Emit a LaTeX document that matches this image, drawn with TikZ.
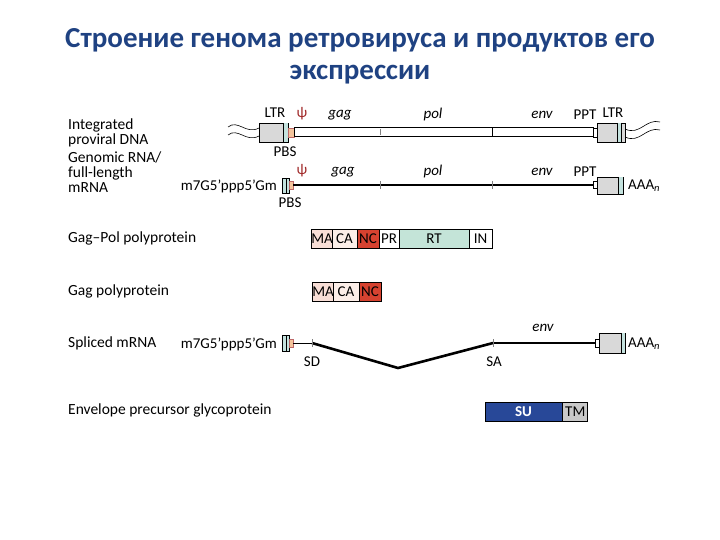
\documentclass[tikz,border=0pt]{standalone}
\usepackage{fontspec}
\setmainfont{Carlito}
\usetikzlibrary{positioning}
\definecolor{titleblue}{RGB}{31,66,130}
\definecolor{ltrgrey}{RGB}{217,217,217}
\definecolor{ltrteal}{RGB}{196,226,222}
\definecolor{pbs}{RGB}{244,196,156}
\definecolor{psi}{RGB}{160,40,40}
\definecolor{ma}{RGB}{248,222,214}
\definecolor{ca}{RGB}{252,238,232}
\definecolor{nc}{RGB}{214,66,48}
\definecolor{rt}{RGB}{196,228,216}
\definecolor{su}{RGB}{40,72,152}
\definecolor{tm}{RGB}{200,200,200}

\begin{document}
\begin{tikzpicture}[
  x=1pt, y=-1pt,
  every node/.style={font=\fontsize{15.5}{15}\selectfont},
  title/.style={font=\fontsize{29}{33}\selectfont\bfseries, text=titleblue},
  rowlab/.style={anchor=west, align=left, inner sep=0pt},
  gene/.style={font=\fontsize{15}{15}\selectfont\itshape},
  tag/.style={font=\fontsize{15}{15}\selectfont, inner sep=0pt},
  dom/.style={draw, inner sep=0pt, minimum height=19pt, line width=0.8pt,
              font=\fontsize{15}{15}\selectfont},
  ltr/.style={draw, fill=ltrgrey, line width=0.8pt},
  pbsbox/.style={draw=psi!70, fill=pbs, line width=0.6pt},
  tick/.style={line width=0.8pt}
]
\useasboundingbox (0,0) rectangle (720,540);

% title
\node[title] (title1) at (360,40) {Строение генома ретровируса и продуктов его};
\node[title] (title2) at (360,75) {экспрессии};

% row labels
\node[rowlab] (lDNA) at (68,132.5) {Integrated\\proviral DNA};
\node[rowlab] (lRNA) at (68,172) {Genomic RNA/\\full-length\\mRNA};
\node[rowlab] (lGP)  at (68,238) {Gag--Pol polyprotein};
\node[rowlab] (lGag) at (68,291) {Gag polyprotein};
\node[rowlab] (lSpl) at (68,343) {Spliced mRNA};
\node[rowlab] (lEnv) at (68,410) {Envelope precursor glycoprotein};

% integrated proviral DNA
\draw[line width=0.6pt] (228,127) .. controls (238,119) and (246,135) .. (259,128);
\draw[line width=0.6pt] (228,135) .. controls (238,127) and (246,143) .. (259,136);
\draw[line width=0.6pt] (625,129) .. controls (640,136) and (646,118) .. (660,122);
\draw[line width=0.6pt] (625,137) .. controls (640,144) and (646,126) .. (660,130);
\draw[ltr] (259,123) rectangle (288,142);
\fill[ltrteal] (283,123.4) rectangle (287.6,141.6);
\draw[line width=0.6pt] (283,123) -- (283,142);
\draw[pbsbox] (288,128) rectangle (294,137);
\draw[line width=1pt, fill=white] (294,127.5) rectangle (593,137);
\draw[gray, line width=0.8pt] (380,129) -- (380,135.5);
\draw[tick] (492,127.5) -- (492,137);
\draw[line width=0.8pt, fill=white] (593,128) rectangle (597,137);
\draw[ltr] (597,123) rectangle (625,142);
\fill[ltrteal] (617.4,123.4) rectangle (621,141.6);
\draw[line width=0.6pt] (617,123) -- (617,142) (621,123) -- (621,142);

\node[tag] (ltrL) at (275,113) {LTR};
\node[tag, text=psi] (psiA) at (302,114) {ψ};
\node[gene] (gagA) at (340,115) {gag};
\node[gene] (polA) at (433,115) {pol};
\node[gene] (envA) at (542,115) {env};
\node[tag] (pptA) at (585,115) {PPT};
\node[tag] (ltrR) at (613,113) {LTR};
\node[tag] (pbsA) at (285,152) {PBS};

% genomic RNA
\draw[ltr, fill=ltrteal] (282,178) rectangle (289,193);
\draw[line width=0.6pt] (286,178) -- (286,193);
\draw[pbsbox] (289,181) rectangle (293,189);
\draw[line width=2.6pt] (293,185) -- (593,185);
\draw[gray, line width=0.8pt] (380,181) -- (380,189);
\draw[gray, line width=0.8pt] (492,181) -- (492,189);
\draw[line width=0.8pt, fill=white] (593,181) rectangle (597,188);
\draw[ltr] (597,177) rectangle (623,194);
\fill[ltrteal] (618.4,177.4) rectangle (622.6,193.6);
\draw[line width=0.6pt] (618,177) -- (618,194);

\node[tag, anchor=east] (capA) at (277,186) {m7G5’ppp5’Gm};
\node[tag, text=psi] (psiB) at (302,171) {ψ};
\node[gene] (gagB) at (343,172) {gag};
\node[gene] (polB) at (433,172) {pol};
\node[gene] (envB) at (542,172) {env};
\node[tag] (pptB) at (585,172) {PPT};
\node[tag] (pbsB) at (290,203) {PBS};
\node[tag, anchor=west] (polyA) at (628,186) {AAA\textsubscript{\itshape n}};

% Gag-Pol polyprotein
\foreach \n/\a/\b/\c in {MA/312/332/ma, CA/332/357/ca, NC/357/379/nc,
                         PR/379/399/white, RT/399/469/rt, IN/469/492/white}
  \node[dom, fill=\c, minimum width={(\b-\a)*1pt}] (gp\n) at ({(\a+\b)/2},238.5) {\n};

% Gag polyprotein
\foreach \n/\a/\b/\c in {MA/313/333/ma, CA/333/359/ca, NC/359/381/nc}
  \node[dom, fill=\c, minimum width={(\b-\a)*1pt}] (g\n) at ({(\a+\b)/2},292) {\n};

% spliced mRNA
\coordinate (sd) at (312,343);
\coordinate (dip) at (398,368);
\coordinate (sa) at (493,343);
\draw[ltr, fill=ltrteal] (282,335) rectangle (289,351);
\draw[line width=0.6pt] (286,335) -- (286,351);
\draw[pbsbox] (289,339) rectangle (293,347);
\draw[line width=1pt] (293,343) -- (sd);
\draw[line width=2.6pt, line join=round] (sd) -- (dip) -- (sa);
\draw[line width=1.3pt] (sa) -- (595,343);
\draw[gray, line width=0.8pt] (312,339) -- (312,347) (493,339) -- (493,347);
\draw[line width=0.8pt, fill=white] (595,339) rectangle (599,347);
\draw[ltr] (599,333) rectangle (625,353);
\fill[ltrteal] (621.4,333.4) rectangle (624.6,352.6);
\draw[line width=0.6pt] (621,333) -- (621,353);

\node[tag, anchor=east] (capC) at (277,344) {m7G5’ppp5’Gm};
\node[tag] (sdL) at (312,362) {SD};
\node[tag] (saL) at (494,362) {SA};
\node[gene] (envC) at (543,328) {env};
\node[tag, anchor=west] (polyC) at (628,344) {AAA\textsubscript{\itshape n}};

% envelope precursor
\node[dom, fill=su, text=white, font=\fontsize{15}{15}\selectfont\bfseries,
      minimum width=77pt] (su) at (523.5,411.5) {SU};
\node[dom, fill=tm, minimum width=25pt, right=0pt of su] (tm) {TM};
\end{tikzpicture}
\end{document}
